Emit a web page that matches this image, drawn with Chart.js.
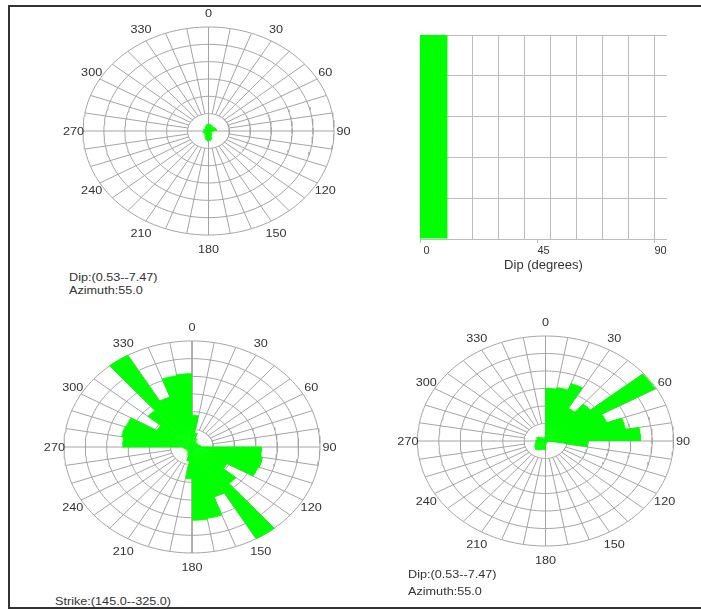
<!DOCTYPE html>
<html>
<head>
<meta charset="utf-8">
<title>Fracture orientation summary</title>
<script src="https://cdn.jsdelivr.net/npm/chart.js@4.4.1/dist/chart.umd.min.js"></script>
<style>
  html, body { margin: 0; padding: 0; background: #fff; width: 701px; height: 610px; overflow: hidden; }
  #page { position: relative; width: 701px; height: 610px; }
  #frame { position: absolute; left: 8px; top: 5px; width: 700px; height: 604px; box-sizing: border-box;
           border-top: 2px solid #333; border-left: 2px solid #333; border-bottom: 2px solid #333; }
  canvas { position: absolute; }
  .cap { position: absolute; font: 11px "Liberation Sans", Arial, sans-serif; color: #333;
         line-height: 13px; white-space: nowrap; transform: scaleX(1.15); transform-origin: 0 50%; }
</style>
</head>
<body>
<div id="page">
  <div id="frame"></div>
  <canvas id="roseTop"></canvas>
  <canvas id="dipHist"></canvas>
  <canvas id="roseStrike"></canvas>
  <canvas id="roseDipDir"></canvas>
  <div class="cap" style="left:69px; top:271px;">Dip:(0.53--7.47)</div>
  <div class="cap" style="left:69px; top:284px;">Azimuth:55.0</div>
  <div class="cap" style="left:55px; top:595px;">Strike:(145.0--325.0)</div>
  <div class="cap" style="left:408px; top:568px;">Dip:(0.53--7.47)</div>
  <div class="cap" style="left:408px; top:585px;">Azimuth:55.0</div>
</div>

<script>
// ---- data -------------------------------------------------------------
// 10-degree sectors, start angle measured clockwise from north
const SECTOR_START = [0, 10, 20, 30, 40, 50, 60, 70, 80, 90, 100, 110,
                     120, 130, 140, 150, 160, 170, 180, 190, 200, 210, 220, 230,
                     240, 250, 260, 270, 280, 290, 300, 310, 320, 330, 340, 350];
const SECTOR_WIDTH = 10;
const ANGLE_TICKS = [0, 30, 60, 90, 120, 150, 180, 210, 240, 270, 300, 330];
const RING_VALUES = [1, 2, 3, 4, 5, 6];

// upper rose: dip azimuths of the near-flat set (very short petals)
const TOP_ROSE = [0.40, 0.38, 0.35, 0.32, 0.30, 0.33, 0.35, 0.37, 0.38,
                  0.20, 0.15, 0.10, 0.15, 0.20, 0.25, 0.30, 0.50, 0.55,
                  0.58, 0.50, 0.40, 0.30, 0.25, 0.20, 0.25, 0.28, 0.22,
                  0.22, 0.25, 0.22, 0.20, 0.20, 0.25, 0.30, 0.35, 0.40];

// strike rose (bidirectional)
const STRIKE_ROSE = [1.80, 0.80, 0.50, 0.35, 0.30, 0.30, 0.30, 0.35, 0.40,
                     3.25, 3.35, 3.30, 1.90, 2.70, 6.00, 3.00, 4.10, 4.15,
                     1.80, 0.80, 0.50, 0.35, 0.30, 0.30, 0.30, 0.35, 0.40,
                     3.25, 3.35, 3.30, 1.90, 2.70, 6.00, 3.00, 4.10, 4.15];

// dip-direction rose
const DIP_DIR_ROSE = [3.00, 3.10, 3.50, 2.15, 2.75, 5.95, 3.05, 3.80, 4.45,
                      1.95, 0.10, 0.10, 0.10, 0.10, 0.10, 0.10, 0.15, 0.20,
                      0.50, 0.50, 0.55, 0.60, 0.65, 0.60, 0.55, 0.50, 0.45,
                      0.45, 0.40, 0.45, 0.40, 0.30, 0.25, 0.20, 0.20, 0.25];

// dip histogram
const DIP_BINS = ['0-10', '10-20', '20-30', '30-40', '40-50', '50-60', '60-70', '70-80', '80-90'];
const DIP_FREQ = [100, 0, 0, 0, 0, 0, 0, 0, 0];
const DIP_TICKS = [0, 45, 90];

// ---- style ------------------------------------------------------------
const GREEN = '#00ff00';
const POLAR_GRID = '#a4a4a4';
const HIST_GRID = '#bcbcbc';
const TEXT = '#333333';
const FONT_FAMILY = '"Liberation Sans", Arial, sans-serif';
const TEXT_STRETCH = 1.15;
const LABEL_RX = 6.45;   // label ring, in radial units
const LABEL_RY = 6.8;
const ARC_STEPS = 8;
const RING_STEPS = 180;

Chart.defaults.font.family = FONT_FAMILY;
Chart.defaults.color = TEXT;

const rad = d => d * Math.PI / 180;
const polarPoint = (r, deg) => ({ x: r * Math.sin(rad(deg)), y: r * Math.cos(rad(deg)) });

// draws the 0..330 bearing labels around a rose
const bearingLabels = {
  id: 'bearingLabels',
  afterDraw(chart) {
    const { ctx, scales: { x, y } } = chart;
    ctx.save();
    ctx.font = '11px ' + FONT_FAMILY;
    ctx.fillStyle = TEXT;
    ctx.textAlign = 'center';
    ctx.textBaseline = 'middle';
    ANGLE_TICKS.forEach(deg => {
      const px = x.getPixelForValue(LABEL_RX * Math.sin(rad(deg)));
      const py = y.getPixelForValue(LABEL_RY * Math.cos(rad(deg)));
      ctx.save();
      ctx.translate(px, py);
      ctx.scale(TEXT_STRETCH, 1);
      ctx.fillText(String(deg), 0, 1);
      ctx.restore();
    });
    ctx.restore();
  }
};

// rose diagram on an elliptical polar grid: frame = {cx, cy, rx, ry} in page pixels
function drawRose(id, frame, values) {
  const outer = RING_VALUES[RING_VALUES.length - 1];
  const ux = frame.rx / outer, uy = frame.ry / outer;
  const W = 2 * Math.ceil(frame.rx * 1.26) + 1;
  const H = 2 * Math.ceil(frame.ry * 1.32);
  const left = Math.round(frame.cx - W / 2);
  const top = Math.round(frame.cy - H / 2);
  const ox = frame.cx - left, oy = frame.cy - top;

  const canvas = document.getElementById(id);
  canvas.width = W; canvas.height = H;
  canvas.style.left = left + 'px'; canvas.style.top = top + 'px';

  const datasets = [];

  // petals
  SECTOR_START.forEach((start, i) => {
    const v = values[i];
    if (!(v > 0)) return;
    const pts = [{ x: 0, y: 0 }];
    for (let k = 0; k <= ARC_STEPS; k++) pts.push(polarPoint(v, start + SECTOR_WIDTH * k / ARC_STEPS));
    datasets.push({ data: pts, showLine: true, fill: 'shape', backgroundColor: GREEN,
                    borderColor: GREEN, borderWidth: 0.8, pointRadius: 0, order: 0 });
  });

  const gridLine = pts => ({ data: pts, showLine: true, fill: false, borderColor: POLAR_GRID,
                             borderWidth: 1, pointRadius: 0, order: 1 });
  // rings
  RING_VALUES.forEach(r => {
    const pts = [];
    for (let k = 0; k <= RING_STEPS; k++) pts.push(polarPoint(r, 360 * k / RING_STEPS));
    datasets.push(gridLine(pts));
  });
  // spokes every sector boundary; the four main axes cross the centre
  SECTOR_START.forEach(deg => {
    if (deg % 90 === 0) return;
    datasets.push(gridLine([polarPoint(RING_VALUES[0], deg), polarPoint(outer, deg)]));
  });
  datasets.push(gridLine([polarPoint(outer, 0), polarPoint(outer, 180)]));
  datasets.push(gridLine([polarPoint(outer, 90), polarPoint(outer, 270)]));

  new Chart(canvas, {
    type: 'scatter',
    data: { datasets },
    options: {
      responsive: false, animation: false, events: [], devicePixelRatio: 1,
      layout: { padding: 0 },
      elements: { line: { tension: 0 }, point: { radius: 0 } },
      plugins: { legend: { display: false }, tooltip: { enabled: false } },
      scales: {
        x: { type: 'linear', display: false, bounds: 'data', min: -ox / ux, max: (W - ox) / ux },
        y: { type: 'linear', display: false, bounds: 'data', min: -(H - oy) / uy, max: oy / uy }
      }
    },
    plugins: [bearingLabels]
  });
}

drawRose('roseTop',    { cx: 208.5, cy: 131, rx: 125.5, ry: 104 }, TOP_ROSE);
drawRose('roseStrike', { cx: 192,   cy: 447, rx: 128,   ry: 106 }, STRIKE_ROSE);
drawRose('roseDipDir', { cx: 545.5, cy: 441, rx: 128,   ry: 105 }, DIP_DIR_ROSE);

// ---- dip histogram ----------------------------------------------------
(function () {
  const canvas = document.getElementById('dipHist');
  canvas.width = 290; canvas.height = 260;
  canvas.style.left = '400px'; canvas.style.top = '20px';
  const clear = 'rgba(0,0,0,0)';
  new Chart(canvas, {
    type: 'bar',
    data: {
      labels: DIP_BINS,
      datasets: [{ data: DIP_FREQ, backgroundColor: GREEN, borderWidth: 0, inflateAmount: 0,
                   barPercentage: 1, categoryPercentage: 1, xAxisID: 'xb', yAxisID: 'y' }]
    },
    options: {
      responsive: false, animation: false, events: [], devicePixelRatio: 1,
      layout: { padding: { left: 20, right: 23, top: 15, bottom: 3 } },
      plugins: { legend: { display: false }, tooltip: { enabled: false } },
      scales: {
        xb: { type: 'category', display: false, offset: true },
        x: {
          type: 'linear', position: 'bottom', min: 0, max: 90,
          ticks: { stepSize: 5, autoSkip: false, maxRotation: 0, padding: 1,
                   font: { size: 11 }, color: TEXT,
                   callback: v => DIP_TICKS.includes(v) ? String(v) : '' },
          grid: { color: c => (c.tick && c.tick.value % 10 === 0) ? HIST_GRID : clear,
                  tickColor: c => (c.tick && DIP_TICKS.includes(c.tick.value)) ? HIST_GRID : clear,
                  tickLength: 4 },
          border: { display: false },
          title: { display: true, text: 'Dip (degrees)', color: TEXT,
                   font: { size: 13 }, padding: { top: 4, bottom: 4 } },
          afterFit: s => { s.height = 38; }
        },
        y: {
          min: 0, max: 100,
          ticks: { display: false, stepSize: 20 },
          grid: { color: HIST_GRID, drawTicks: false },
          border: { display: false },
          afterFit: s => { s.width = 0; }
        }
      }
    }
  });
})();
</script>
</body>
</html>
